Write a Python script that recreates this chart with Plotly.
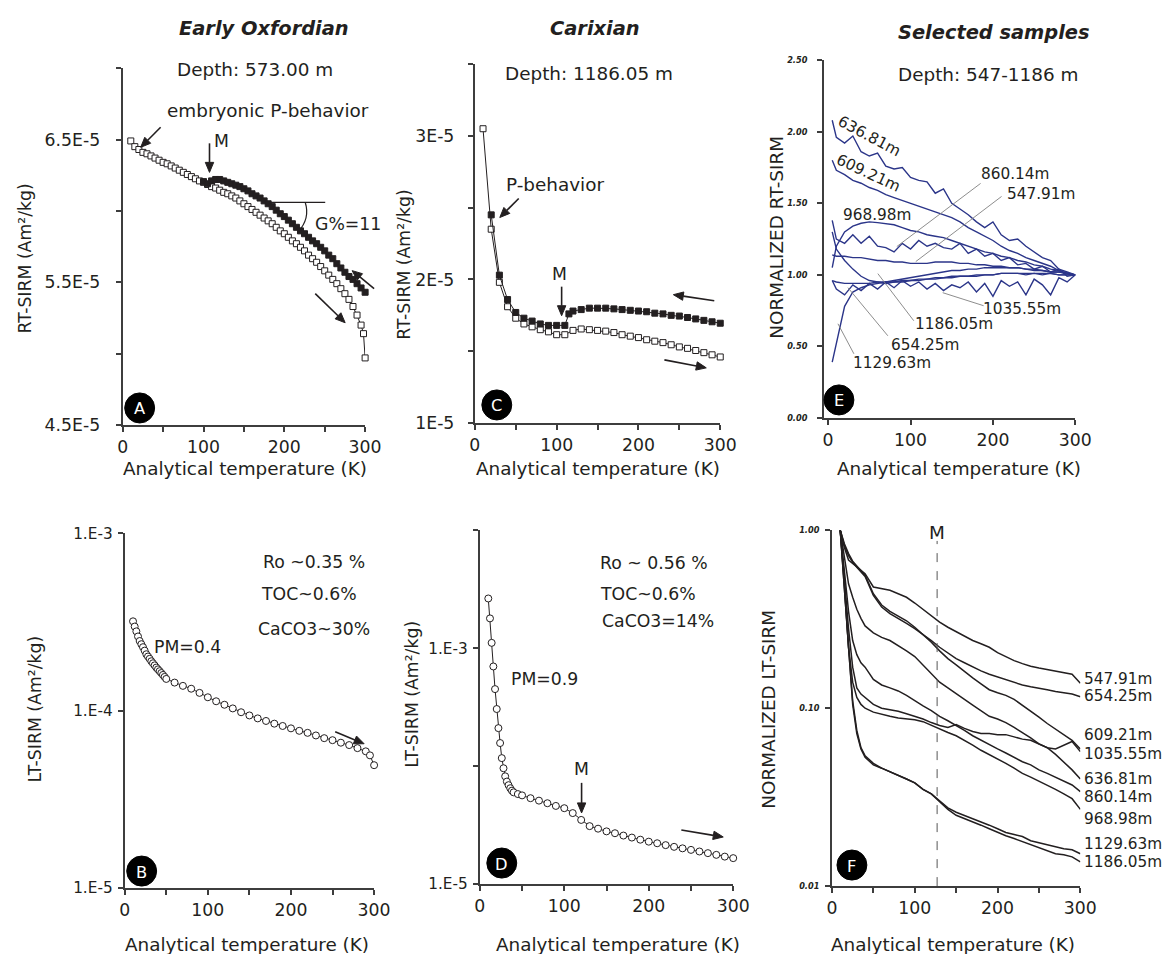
import math
import plotly.graph_objects as go

# Target (reference) image size and the observed screen mapping  R = O + S * figure_px
W, H = 1167, 954
SX, OX = 0.983, 3.0
SY, OY = 0.978, 9.0
FW, FH = 1185, 967
FS = 1 / 0.98          # font compensation
FONT = "DejaVu Sans"
INK = "#231f20"
AXC = "#3d3d3d"
NAVY = "#2b3589"

# ---------------- Panel A: RT-SIRM, Early Oxfordian (573.00 m) ----------------
A_warm_T = [10, 15, 20, 25, 30, 35, 40, 45, 50, 55, 60, 65, 70, 75, 80, 85, 90, 95, 100,
            105, 110, 115, 120, 125, 130, 135, 140, 145, 150, 155, 160, 165, 170, 175, 180,
            185, 190, 195, 200, 205, 210, 215, 220, 225, 230, 235, 240, 245, 250, 255, 260,
            265, 270, 275, 280, 285, 290, 295, 298, 300]
A_warm_M = [6.49e-5, 6.45e-5, 6.43e-5, 6.41e-5, 6.40e-5, 6.385e-5, 6.37e-5, 6.355e-5, 6.34e-5,
            6.33e-5, 6.315e-5, 6.30e-5, 6.285e-5, 6.27e-5, 6.255e-5, 6.24e-5, 6.225e-5, 6.21e-5,
            6.20e-5, 6.185e-5, 6.17e-5, 6.16e-5, 6.145e-5, 6.13e-5, 6.12e-5, 6.105e-5, 6.09e-5,
            6.07e-5, 6.05e-5, 6.03e-5, 6.01e-5, 5.99e-5, 5.97e-5, 5.95e-5, 5.93e-5, 5.91e-5,
            5.885e-5, 5.86e-5, 5.84e-5, 5.815e-5, 5.79e-5, 5.77e-5, 5.745e-5, 5.72e-5, 5.69e-5,
            5.665e-5, 5.64e-5, 5.61e-5, 5.58e-5, 5.55e-5, 5.52e-5, 5.49e-5, 5.455e-5, 5.42e-5,
            5.38e-5, 5.33e-5, 5.27e-5, 5.20e-5, 5.14e-5, 4.97e-5]
A_cool_T = [100, 105, 110, 115, 120, 125, 130, 135, 140, 145, 150, 155, 160, 165, 170, 175,
            180, 185, 190, 195, 200, 205, 210, 215, 220, 225, 230, 235, 240, 245, 250, 255,
            260, 265, 270, 275, 280, 285, 290, 295, 300]
A_cool_M = [6.205e-5, 6.19e-5, 6.21e-5, 6.22e-5, 6.22e-5, 6.21e-5, 6.20e-5, 6.19e-5, 6.18e-5,
            6.17e-5, 6.155e-5, 6.14e-5, 6.12e-5, 6.105e-5, 6.09e-5, 6.07e-5, 6.05e-5, 6.03e-5,
            6.005e-5, 5.98e-5, 5.96e-5, 5.935e-5, 5.91e-5, 5.885e-5, 5.86e-5, 5.84e-5, 5.815e-5,
            5.79e-5, 5.77e-5, 5.745e-5, 5.72e-5, 5.69e-5, 5.665e-5, 5.63e-5, 5.60e-5, 5.57e-5,
            5.54e-5, 5.52e-5, 5.49e-5, 5.46e-5, 5.43e-5]

# ---------------- Panel C: RT-SIRM, Carixian (1186.05 m) ----------------
C_warm_T = [10, 20, 30, 40, 50, 60, 70, 80, 90, 100, 110, 120, 130, 140, 150, 160, 170, 180,
            190, 200, 210, 220, 230, 240, 250, 260, 270, 280, 290, 300]
C_warm_M = [3.05e-5, 2.35e-5, 1.98e-5, 1.81e-5, 1.73e-5, 1.69e-5, 1.67e-5, 1.65e-5, 1.635e-5,
            1.615e-5, 1.615e-5, 1.645e-5, 1.655e-5, 1.65e-5, 1.645e-5, 1.64e-5, 1.63e-5,
            1.615e-5, 1.605e-5, 1.595e-5, 1.58e-5, 1.57e-5, 1.56e-5, 1.545e-5, 1.53e-5,
            1.52e-5, 1.505e-5, 1.49e-5, 1.475e-5, 1.46e-5]
C_cool_T = [20, 30, 40, 50, 60, 70, 80, 90, 100, 110, 115, 120, 130, 140, 150, 160, 170, 180,
            190, 200, 210, 220, 230, 240, 250, 260, 270, 280, 290, 300]
C_cool_M = [2.45e-5, 2.03e-5, 1.86e-5, 1.77e-5, 1.73e-5, 1.71e-5, 1.69e-5, 1.68e-5, 1.68e-5,
            1.68e-5, 1.76e-5, 1.78e-5, 1.79e-5, 1.80e-5, 1.80e-5, 1.80e-5, 1.795e-5, 1.79e-5,
            1.785e-5, 1.78e-5, 1.775e-5, 1.765e-5, 1.76e-5, 1.75e-5, 1.745e-5, 1.735e-5,
            1.725e-5, 1.715e-5, 1.705e-5, 1.695e-5]

# ---------------- Panel E: normalized RT-SIRM, selected samples ----------------
E_T = [5, 10, 20, 30, 40, 50, 60, 70, 80, 90, 100, 110, 120, 130, 140, 150, 160, 170, 180,
       190, 200, 210, 220, 230, 240, 250, 260, 270, 280, 290, 300]
E_636_81 = [2.08, 1.96, 1.92, 1.97, 1.86, 1.83, 1.85, 1.76, 1.74, 1.75, 1.68, 1.66, 1.65, 1.57,
            1.60, 1.50, 1.46, 1.42, 1.37, 1.33, 1.37, 1.28, 1.24, 1.25, 1.20, 1.16, 1.12, 1.10,
            1.04, 1.02, 1.00]
E_609_21 = [1.80, 1.73, 1.70, 1.66, 1.64, 1.61, 1.59, 1.56, 1.54, 1.52, 1.50, 1.48, 1.46, 1.44,
            1.42, 1.40, 1.37, 1.33, 1.30, 1.27, 1.24, 1.20, 1.17, 1.15, 1.12, 1.10, 1.08, 1.06,
            1.03, 1.01, 1.00]
E_968_98 = [1.05, 1.20, 1.30, 1.34, 1.36, 1.37, 1.365, 1.355, 1.35, 1.33, 1.31, 1.30, 1.28, 1.27,
            1.26, 1.24, 1.22, 1.20, 1.18, 1.16, 1.15, 1.13, 1.12, 1.10, 1.09, 1.07, 1.06, 1.04,
            1.03, 1.01, 1.00]
E_860_14 = [1.38, 1.25, 1.22, 1.28, 1.22, 1.27, 1.20, 1.19, 1.16, 1.22, 1.18, 1.24, 1.20, 1.22,
            1.19, 1.18, 1.22, 1.15, 1.18, 1.13, 1.15, 1.10, 1.12, 1.07, 1.08, 1.04, 1.06, 1.02,
            1.04, 0.99, 1.00]
E_547_91 = [1.14, 1.13, 1.13, 1.12, 1.12, 1.11, 1.10, 1.10, 1.09, 1.09, 1.08, 1.08, 1.08, 1.09,
            1.09, 1.09, 1.08, 1.08, 1.07, 1.07, 1.06, 1.06, 1.05, 1.05, 1.04, 1.03, 1.03, 1.02,
            1.02, 1.01, 1.00]
E_1035_55 = [0.96, 0.90, 0.86, 0.93, 0.89, 0.94, 0.90, 0.95, 0.91, 0.96, 0.92, 0.95, 0.90, 0.94,
             0.89, 0.93, 0.91, 0.95, 0.88, 0.94, 0.85, 0.96, 0.92, 0.95, 0.86, 0.97, 0.93, 0.86,
             0.98, 0.95, 1.00]
E_1186_05 = [1.30, 1.18, 1.10, 1.04, 0.99, 0.96, 0.95, 0.94, 0.95, 0.95, 0.96, 0.96, 0.97, 0.97,
             0.98, 0.98, 0.99, 0.99, 0.99, 1.00, 1.00, 1.01, 1.01, 1.01, 1.00, 1.01, 1.00, 1.01,
             1.00, 1.00, 1.00]
E_654_25 = [0.96, 0.95, 0.94, 0.94, 0.94, 0.94, 0.95, 0.95, 0.96, 0.97, 0.98, 0.99, 1.00, 1.01,
            1.02, 1.03, 1.03, 1.04, 1.04, 1.05, 1.05, 1.05, 1.05, 1.05, 1.04, 1.04, 1.03, 1.02,
            1.02, 1.01, 1.00]
E_1129_63 = [0.39, 0.52, 0.78, 0.88, 0.91, 0.93, 0.94, 0.95, 0.95, 0.96, 0.96, 0.97, 0.97, 0.98,
             0.98, 0.99, 0.99, 0.99, 1.00, 1.00, 1.00, 1.01, 1.01, 1.01, 1.01, 1.01, 1.01, 1.01,
             1.00, 1.00, 1.00]

# ---------------- Panel B: LT-SIRM warming, 573.00 m ----------------
B_T = [10, 12, 14, 16, 18, 20, 22, 24, 26, 28, 30, 32, 34, 36, 38, 40, 42, 44, 46, 48, 50,
       60, 70, 80, 90, 100, 110, 120, 130, 140, 150, 160, 170, 180, 190, 200, 210, 220, 230,
       240, 250, 260, 270, 280, 290, 295, 300]
B_M = [3.19e-4, 2.98e-4, 2.80e-4, 2.62e-4, 2.47e-4, 2.37e-4, 2.28e-4, 2.18e-4, 2.08e-4, 2.02e-4,
       1.96e-4, 1.90e-4, 1.85e-4, 1.80e-4, 1.75e-4, 1.71e-4, 1.67e-4, 1.63e-4, 1.59e-4, 1.55e-4,
       1.51e-4, 1.44e-4, 1.38e-4, 1.33e-4, 1.26e-4, 1.19e-4, 1.13e-4, 1.08e-4, 1.03e-4, 0.98e-4,
       0.94e-4, 0.905e-4, 0.875e-4, 0.845e-4, 0.82e-4, 0.795e-4, 0.77e-4, 0.75e-4, 0.725e-4,
       0.70e-4, 0.682e-4, 0.66e-4, 0.64e-4, 0.615e-4, 0.59e-4, 0.56e-4, 0.493e-4]

# ---------------- Panel D: LT-SIRM warming, 1186.05 m ----------------
D_T = [10, 12, 14, 16, 18, 20, 22, 24, 26, 28, 30, 32, 34, 36, 38, 40, 45, 50, 60, 70, 80, 90,
       100, 110, 120, 130, 140, 150, 160, 170, 180, 190, 200, 210, 220, 230, 240, 250, 260, 270,
       280, 290, 300]
D_M = [2.64e-3, 1.79e-3, 1.11e-3, 7.0e-4, 4.5e-4, 3.05e-4, 2.1e-4, 1.57e-4, 1.17e-4, 9.6e-5,
       8.2e-5, 7.4e-5, 6.9e-5, 6.5e-5, 6.2e-5, 6.0e-5, 5.8e-5, 5.65e-5, 5.35e-5, 5.1e-5, 4.85e-5,
       4.6e-5, 4.4e-5, 4.0e-5, 3.5e-5, 3.1e-5, 2.95e-5, 2.8e-5, 2.7e-5, 2.58e-5, 2.48e-5, 2.38e-5,
       2.29e-5, 2.22e-5, 2.14e-5, 2.07e-5, 2.01e-5, 1.95e-5, 1.89e-5, 1.83e-5, 1.77e-5, 1.71e-5,
       1.66e-5]

# ---------------- Panel F: normalized LT-SIRM, selected samples ----------------
F_T = [10, 15, 20, 25, 30, 35, 40, 50, 60, 70, 80, 90, 100, 110, 120, 130, 140, 150, 160, 170,
       180, 190, 200, 210, 220, 230, 240, 250, 260, 270, 280, 290, 300]
F_547_91 = [1.0, 0.80, 0.68, 0.65, 0.62, 0.60, 0.57, 0.48, 0.47, 0.46, 0.44, 0.42, 0.39, 0.36,
            0.33, 0.305, 0.285, 0.27, 0.255, 0.24, 0.23, 0.22, 0.205, 0.195, 0.185, 0.178, 0.172,
            0.168, 0.165, 0.162, 0.158, 0.155, 0.138]
F_654_25 = [1.0, 0.82, 0.72, 0.66, 0.62, 0.58, 0.55, 0.43, 0.37, 0.34, 0.32, 0.30, 0.28, 0.26,
            0.24, 0.22, 0.205, 0.19, 0.18, 0.17, 0.162, 0.155, 0.15, 0.145, 0.14, 0.135, 0.132,
            0.13, 0.127, 0.124, 0.122, 0.12, 0.116]
F_609_21 = [1.0, 0.84, 0.74, 0.67, 0.63, 0.59, 0.56, 0.44, 0.38, 0.35, 0.33, 0.31, 0.285, 0.26,
            0.235, 0.21, 0.19, 0.175, 0.16, 0.148, 0.137, 0.127, 0.122, 0.118, 0.112, 0.104,
            0.096, 0.089, 0.082, 0.076, 0.071, 0.066, 0.059]
F_1035_55 = [1.0, 0.50, 0.28, 0.17, 0.13, 0.12, 0.115, 0.105, 0.10, 0.098, 0.096, 0.093, 0.09,
             0.087, 0.083, 0.08, 0.078, 0.081, 0.077, 0.074, 0.072, 0.072, 0.071, 0.071, 0.069,
             0.067, 0.066, 0.063, 0.060, 0.059, 0.062, 0.065, 0.057]
F_636_81 = [1.0, 0.70, 0.50, 0.42, 0.36, 0.32, 0.29, 0.265, 0.25, 0.24, 0.225, 0.21, 0.195, 0.175,
            0.155, 0.14, 0.13, 0.12, 0.112, 0.104, 0.097, 0.09, 0.087, 0.083, 0.078, 0.073,
            0.068, 0.063, 0.060, 0.055, 0.050, 0.045, 0.040]
F_860_14 = [1.0, 0.60, 0.35, 0.24, 0.20, 0.18, 0.17, 0.145, 0.135, 0.13, 0.125, 0.118, 0.11,
            0.103, 0.097, 0.09, 0.085, 0.08, 0.075, 0.07, 0.066, 0.062, 0.059, 0.056, 0.053,
            0.05, 0.048, 0.045, 0.043, 0.041, 0.039, 0.037, 0.034]
F_968_98 = [1.0, 0.45, 0.22, 0.14, 0.115, 0.105, 0.10, 0.095, 0.092, 0.09, 0.088, 0.087, 0.086,
            0.084, 0.08, 0.077, 0.073, 0.07, 0.066, 0.062, 0.058, 0.055, 0.052, 0.049, 0.046,
            0.043, 0.041, 0.039, 0.037, 0.035, 0.033, 0.031, 0.027]
F_1129_63 = [1.0, 0.50, 0.22, 0.11, 0.075, 0.06, 0.054, 0.049, 0.046, 0.044, 0.042, 0.040, 0.038,
             0.035, 0.033, 0.030, 0.0275, 0.026, 0.025, 0.024, 0.023, 0.022, 0.021, 0.020,
             0.0195, 0.019, 0.018, 0.0175, 0.017, 0.0165, 0.0162, 0.016, 0.0152]
F_1186_05 = [1.0, 0.48, 0.21, 0.105, 0.072, 0.059, 0.053, 0.048, 0.046, 0.044, 0.042, 0.040,
             0.038, 0.035, 0.033, 0.030, 0.027, 0.025, 0.024, 0.023, 0.022, 0.021, 0.020, 0.0192,
             0.0185, 0.0178, 0.017, 0.0165, 0.0158, 0.0152, 0.015, 0.0146, 0.0137]
F_M_TEMP = 127

# ---------------- figure ----------------
fig = go.Figure()


def px(x):
    return ((x - OX) / SX) / FW


def py(y):
    return 1 - ((y - OY) / SY) / FH


def fsz(s):
    return round(s * FS, 1)


def lines_markers(x, y, xa, ya, symbol, fill, size):
    return go.Scatter(x=x, y=y, xaxis=xa, yaxis=ya, mode="lines+markers", cliponaxis=False,
                      line=dict(color=INK, width=1),
                      marker=dict(symbol=symbol, size=size, color=fill,
                                  line=dict(color=INK, width=1)),
                      showlegend=False, hoverinfo="skip")


# A
fig.add_trace(lines_markers(A_warm_T, A_warm_M, "x", "y", "square", "white", 6))
fig.add_trace(lines_markers(A_cool_T, A_cool_M, "x", "y", "square", INK, 6))
# C
fig.add_trace(lines_markers(C_warm_T, C_warm_M, "x2", "y2", "square", "white", 6))
fig.add_trace(lines_markers(C_cool_T, C_cool_M, "x2", "y2", "square", INK, 6))
# E
for vals in [E_636_81, E_609_21, E_968_98, E_860_14, E_547_91, E_1035_55, E_1186_05,
             E_654_25, E_1129_63]:
    fig.add_trace(go.Scatter(x=E_T, y=vals, xaxis="x3", yaxis="y3", mode="lines",
                             line=dict(color=NAVY, width=1.4), showlegend=False,
                             hoverinfo="skip"))
# B
fig.add_trace(lines_markers(B_T, B_M, "x4", "y4", "circle", "white", 7))
# D
fig.add_trace(lines_markers(D_T, D_M, "x5", "y5", "circle", "white", 7))
# F
for vals in [F_547_91, F_654_25, F_609_21, F_1035_55, F_636_81, F_860_14, F_968_98,
             F_1129_63, F_1186_05]:
    fig.add_trace(go.Scatter(x=F_T, y=vals, xaxis="x6", yaxis="y6", mode="lines",
                             line=dict(color=INK, width=1.5), showlegend=False,
                             hoverinfo="skip"))


def minor(vals):
    return dict(tickvals=vals, ticks="outside", ticklen=5, tickwidth=1.5, tickcolor=AXC,
                showgrid=False)


def xax(l, r, anchor, rng, tickvals, minor_vals):
    return dict(domain=[px(l), px(r)], anchor=anchor, range=rng, showline=True,
                linecolor=AXC, linewidth=2, ticks="outside", ticklen=5, tickwidth=1.5,
                tickcolor=AXC, showgrid=False, zeroline=False, tickmode="array",
                tickvals=tickvals, ticktext=[str(v) for v in tickvals],
                minor=minor(minor_vals),
                tickfont=dict(family=FONT, size=fsz(17), color=INK))


def yax(t, b, anchor, rng, tickvals, ticktext, minor_vals, size=17, standoff=4,
        typ="linear", **font):
    d = dict(domain=[py(b), py(t)], anchor=anchor, range=rng, type=typ, showline=True,
             linecolor=AXC, linewidth=2, ticks="outside", ticklen=5, tickwidth=1.5,
             tickcolor=AXC, showgrid=False, zeroline=False, tickmode="array",
             tickvals=tickvals, ticktext=ticktext, ticklabelstandoff=standoff,
             tickfont=dict(family=FONT, size=fsz(size), color=INK, **font))
    if minor_vals:
        d["minor"] = minor(minor_vals)
    return d


XT = [0, 100, 200, 300]
XM = [50, 150, 250]

layout = dict(
    width=FW, height=FH, margin=dict(l=0, r=0, t=0, b=0),
    paper_bgcolor="white", plot_bgcolor="white", showlegend=False,
    font=dict(family=FONT, color=INK),
    xaxis=xax(120, 363, "y", [0, 300], XT, XM),
    yaxis=yax(68, 424, "x", [4.5e-5, 7.0e-5], [4.5e-5, 5.5e-5, 6.5e-5],
              ["4.5E-5", "5.5E-5", "6.5E-5"], [5.0e-5, 6.0e-5, 7.0e-5], size=17, standoff=12),
    xaxis2=xax(473, 719, "y2", [0, 300], XT, XM),
    yaxis2=yax(64, 422, "x2", [1e-5, 3.5e-5], [1e-5, 2e-5, 3e-5], ["1E-5", "2E-5", "3E-5"],
               [1.5e-5, 2.5e-5, 3.5e-5], size=17, standoff=10),
    xaxis3=xax(823, 1075, "y3", [-5, 300], XT, []),
    yaxis3=yax(60, 417, "x3", [0, 2.5], [0, 0.5, 1.0, 1.5, 2.0, 2.5],
               ["0.00", "0.50", "1.00", "1.50", "2.00", "2.50"], None, size=8, standoff=8,
               weight="bold", style="italic"),
    xaxis4=xax(122, 372, "y4", [0, 300], XT, XM),
    yaxis4=yax(532, 886, "x4", [-5, -3], [1e-5, 1e-4, 1e-3], ["1.E-5", "1.E-4", "1.E-3"],
               None, size=15, standoff=2, typ="log"),
    xaxis5=xax(478, 732, "y5", [0, 300], XT, XM),
    yaxis5=yax(529, 882, "x5", [-5, -2], [1e-5, 1e-3], ["1.E-5", "1.E-3"], [1e-4, 1e-2],
               size=15, standoff=2, typ="log"),
    xaxis6=xax(831, 1080, "y6", [0, 300], XT, XM),
    yaxis6=yax(529, 884, "x6", [-2, 0], [0.01, 0.1, 1], ["0.01", "0.10", "1.00"], None,
               size=8, standoff=4, typ="log", weight="bold", style="italic"),
)

ann = []
shapes = []


def text(t, x, y, size=17, xanchor="center", angle=0, color=INK, **font):
    ann.append(dict(text=t, x=px(x), y=py(y), xref="paper", yref="paper", showarrow=False,
                    xanchor=xanchor, yanchor="middle", textangle=angle,
                    font=dict(family=FONT, size=fsz(size), color=color, **font)))


def arrow(hx, hy, tx, ty, head=10, half=4.2):
    """Arrow drawn as a line plus a filled triangular head (head at hx, hy)."""
    dx, dy = hx - tx, hy - ty
    d = math.hypot(dx, dy)
    ux, uy = dx / d, dy / d
    bx, by = hx - head * ux, hy - head * uy
    nx, ny = -uy, ux
    shapes.append(dict(type="line", xref="paper", yref="paper", x0=px(tx), y0=py(ty),
                       x1=px(bx), y1=py(by), line=dict(color=INK, width=1.6)))
    p1 = (bx + half * nx, by + half * ny)
    p2 = (bx - half * nx, by - half * ny)
    shapes.append(dict(type="path", xref="paper", yref="paper", fillcolor=INK,
                       line=dict(color=INK, width=1),
                       path=(f"M {px(hx)},{py(hy)} L {px(p1[0])},{py(p1[1])} "
                             f"L {px(p2[0])},{py(p2[1])} Z")))


# titles
text("Early Oxfordian", 262, 28, size=19, weight="bold", style="italic")
text("Carixian", 593, 28, size=19, weight="bold", style="italic")
text("Selected samples", 993, 32, size=19, weight="bold", style="italic")

# axis titles
XTITLE = "Analytical temperature (K)"
for cx, cy in [(243, 467), (596, 467), (958, 467), (245, 942), (617, 942), (952, 942)]:
    text(XTITLE, cx, cy, size=18)
text("RT-SIRM (Am²/kg)", 22, 258, size=17, angle=-90)
text("RT-SIRM (Am²/kg)", 402, 264, size=17, angle=-90)
text("NORMALIZED RT-SIRM", 775, 237, size=18, angle=-90)
text("LT-SIRM (Am²/kg)", 32, 707, size=17, angle=-90)
text("LT-SIRM (Am²/kg)", 410, 693, size=17, angle=-90)
text("NORMALIZED LT-SIRM", 768, 708, size=18, angle=-90)

# panel A
text("Depth: 573.00 m", 253, 69, size=18)
text("embryonic P-behavior", 266, 110, size=18)
text("M", 219, 141, size=17)
text("G%=11", 346, 223, size=17)
arrow(138, 147, 158, 127)
arrow(207, 172, 207, 143)
arrow(350, 270, 372, 288)
arrow(343, 322, 313, 293)

# panel C
text("Depth: 1186.05 m", 587, 73, size=18)
text("P-behavior", 553, 184, size=18)
text("M", 558, 273, size=17)
arrow(498, 217, 517, 198)
arrow(560, 315, 560, 286)
arrow(672, 294, 713, 300)
arrow(705, 367, 663, 359)

# panel E
text("Depth: 547-1186 m", 987, 74, size=18)
text("636.81m", 868, 136, size=15, angle=28)
text("609.21m", 867, 173, size=15, angle=25)
text("968.98m", 876, 215, size=15)
text("860.14m", 1014, 174, size=15)
text("547.91m", 1041, 194, size=15)
text("1035.55m", 1021, 308, size=15)
text("1186.05m", 953, 323, size=15)
text("654.25m", 924, 344, size=15)
text("1129.63m", 891, 362, size=15)

# panel B
text("Ro ~0.35 %", 312, 561, size=17)
text("TOC~0.6%", 307, 593, size=17)
text("CaCO3~30%", 312, 628, size=17)
text("PM=0.4", 185, 645, size=17)
arrow(362, 742, 333, 730)

# panel D
text("Ro ~ 0.56 %", 653, 562, size=17)
text("TOC~0.6%", 647, 593, size=17)
text("CaCO3=14%", 657, 620, size=17)
text("PM=0.9", 543, 677, size=17)
text("M", 580, 767, size=17)
arrow(580, 811, 580, 781)
arrow(722, 835, 680, 828)

# panel F
text("M", 936, 531, size=18)
for lbl, yy in [("547.91m", 677), ("654.25m", 694), ("609.21m", 733), ("1035.55m", 752),
                ("636.81m", 777), ("860.14m", 795), ("968.98m", 817), ("1129.63m", 842),
                ("1186.05m", 860)]:
    text(lbl, 1082, yy, size=15, xanchor="left")

# panel letters
for letter, cx, cy in [("A", 137, 407), ("C", 495, 404), ("E", 838, 399),
                       ("B", 139, 869), ("D", 500, 861), ("F", 851, 863)]:
    r = 15
    shapes.append(dict(type="circle", xref="paper", yref="paper", x0=px(cx - r), x1=px(cx + r),
                       y0=py(cy + r), y1=py(cy - r), fillcolor="black",
                       line=dict(color="black", width=1), layer="above"))
    text(letter, cx, cy + 1, size=16, color="white")

# G% construction in A
shapes.append(dict(type="line", xref="paper", yref="paper", x0=px(267), x1=px(323),
                   y0=py(202), y1=py(202), line=dict(color=INK, width=1.2)))
shapes.append(dict(type="path", xref="paper", yref="paper",
                   path=f"M {px(303)},{py(202)} Q {px(308)},{py(218)} {px(296)},{py(231)}",
                   line=dict(color=INK, width=1.2)))

# leader lines in E
for x0, y0, x1, y1 in [(980, 183, 896, 246), (1001, 196, 915, 261), (983, 305, 942, 292),
                       (913, 320, 877, 273), (887, 335, 847, 287), (853, 353, 837, 323)]:
    shapes.append(dict(type="line", xref="paper", yref="paper", x0=px(x0), y0=py(y0),
                       x1=px(x1), y1=py(y1), line=dict(color="#808080", width=0.9)))

# M line in F
shapes.append(dict(type="line", xref="x6", yref="y6 domain", x0=F_M_TEMP, x1=F_M_TEMP,
                   y0=0, y1=0.97, line=dict(color="#555555", width=1, dash="dash")))

layout["annotations"] = ann
layout["shapes"] = shapes
fig.update_layout(**layout)
fig.write_html("out.html")
